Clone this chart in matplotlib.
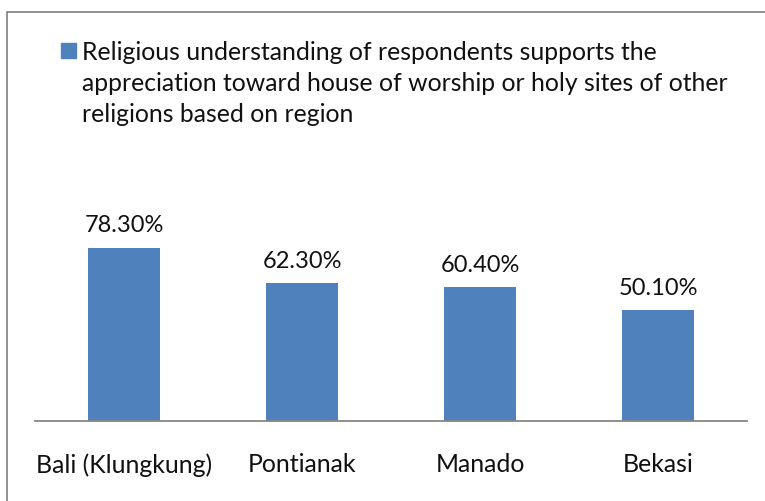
import matplotlib
matplotlib.use("Agg")
import matplotlib.pyplot as plt
from matplotlib.patches import Rectangle
import numpy as np

regions = ["Bali (Klungkung)", "Pontianak", "Manado", "Bekasi"]
values = [78.3, 62.3, 60.4, 50.1]
value_labels = ["78.30%", "62.30%", "60.40%", "50.10%"]
series_lines = ["Religious understanding of respondents supports the",
                "appreciation toward house of worship or holy sites of other",
                "religions based on region"]

BAR_COLOR = "#4F81BD"
FRAME_COLOR = "#898989"
TEXT_COLOR = "#111111"
W, H = 765, 502

plt.rcParams["font.family"] = ["Lato", "DejaVu Sans"]

fig = plt.figure(figsize=(W / 100, H / 100), dpi=100)
fig.patch.set_facecolor("white")

# plot area in pixels: baseline at y=421.7, 2.206 px per percent
ymax = 90
base_px = 421.7
px_per_unit = 2.206
ax = fig.add_axes([35 / W, (H - base_px) / H, 712 / W, ymax * px_per_unit / H])

x = np.arange(len(regions))
ax.bar(x, values, width=0.404, color=BAR_COLOR, zorder=2)
ax.set_xlim(-0.5, len(regions) - 0.5)
ax.set_ylim(0, ymax)

for xi, v, lab in zip(x, values, value_labels):
    ax.annotate(lab, (xi, v), xytext=(0, 12), textcoords="offset points",
                ha="center", va="baseline", fontsize=17, color=TEXT_COLOR)

ax.set_xticks(x)
ax.set_xticklabels(regions, fontsize=17.9, color=TEXT_COLOR)
ax.tick_params(axis="x", length=0, pad=22.5)
ax.set_yticks([])
for side in ["top", "left", "right"]:
    ax.spines[side].set_visible(False)
ax.spines["bottom"].set_color("#868686")
ax.spines["bottom"].set_linewidth(1.3)

# series key in the upper left, one text per line
fig.add_artist(Rectangle((61 / W, (H - 59) / H), 15 / W, 15 / H,
                         transform=fig.transFigure, color=BAR_COLOR))
for i, line in enumerate(series_lines):
    fig.text(82 / W, (H - 60 - 31 * i) / H, line, ha="left", va="baseline",
             fontsize=17.8, color=TEXT_COLOR)

# outer chart frame
fig.add_artist(Rectangle((7 / W, -0.1), 1.2, 0.1 + (H - 12.7) / H,
                         transform=fig.transFigure, fill=False,
                         edgecolor=FRAME_COLOR, linewidth=1.3))

fig.savefig("out.png", dpi=100)
